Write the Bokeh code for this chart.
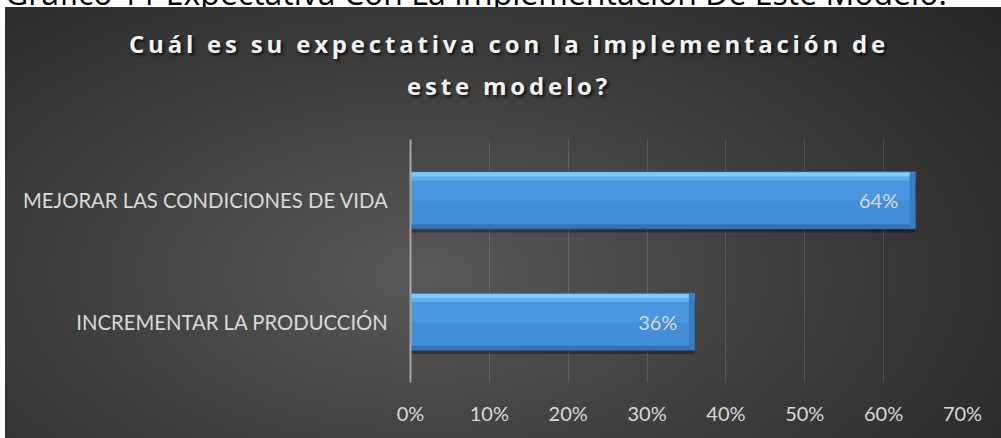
from bokeh.plotting import figure
from bokeh.models import (ColumnDataSource, FactorRange, Range1d, NumeralTickFormatter,
                          FixedTicker, LabelSet, Div)
from bokeh.transform import dodge
from bokeh.layouts import column
from bokeh.core.properties import value
from bokeh.embed import file_html
from bokeh.resources import INLINE

# ---- data ----
caption = "Gráfico 11 Expectativa Con La Implementación De Este Modelo."
title_line1 = "Cuál es su expectativa con la implementación de"
title_line2 = "este modelo?"
categories = ["MEJORAR LAS CONDICIONES DE VIDA", "INCREMENTAR LA PRODUCCIÓN"]
values = [0.64, 0.36]
value_labels = ["64%", "36%"]
x_ticks = [0.0, 0.1, 0.2, 0.3, 0.4, 0.5, 0.6, 0.7]
x_max = 0.7

LABEL_FONT = "Lato"
TEXT_COLOR = "#d9d9d9"
W = 996

src = ColumnDataSource(dict(
    cat=categories,
    val=values,
    inner=[v - 0.007 for v in values],
    lab=value_labels,
))

p = figure(width=W, height=321,
           y_range=FactorRange(factors=categories[::-1]),
           x_range=Range1d(0, x_max),
           output_backend="svg", toolbar_location=None,
           min_border_left=405, min_border_right=39,
           min_border_top=22, min_border_bottom=56)
p.border_fill_alpha = 0
p.background_fill_alpha = 0
p.outline_line_color = None

BAR_H = 0.47
# drop shadow
p.hbar(y=dodge("cat", -0.03, range=p.y_range), left=0, right="val", height=BAR_H,
       source=src, fill_color="#000000", fill_alpha=0.35, line_color=None)
# main bar
p.hbar(y="cat", left=0, right="val", height=BAR_H, source=src,
       fill_color="#4897df", line_color="#2a5d94", line_width=1)
# lower shading
p.hbar(y=dodge("cat", -BAR_H / 4, range=p.y_range), left=0, right="val",
       height=BAR_H / 2 - 0.01, source=src, fill_color="#3f88d2", fill_alpha=0.6,
       line_color=None)
# top highlight (two tones)
p.hbar(y=dodge("cat", BAR_H / 2 - 0.055, range=p.y_range), left=0, right="val",
       height=0.035, source=src, fill_color="#5fb0ec", line_color=None)
p.hbar(y=dodge("cat", BAR_H / 2 - 0.022, range=p.y_range), left=0, right="val",
       height=0.035, source=src, fill_color="#7ccbf8", line_color=None)
# bottom bevel
p.hbar(y=dodge("cat", -BAR_H / 2 + 0.02, range=p.y_range), left=0, right="val",
       height=0.035, source=src, fill_color="#3572b8", line_color=None)
# right bevel
p.hbar(y="cat", left="inner", right="val", height=BAR_H - 0.01, source=src,
       fill_color="#3a7cc2", line_color=None)

labels = LabelSet(x="val", y="cat", text="lab", source=src, x_offset=-17,
                  text_align="right", text_baseline="middle",
                  text_color=TEXT_COLOR, text_font=value(LABEL_FONT),
                  text_font_size="20px")
p.add_layout(labels)

# axes
p.xaxis.ticker = FixedTicker(ticks=x_ticks)
p.xaxis.formatter = NumeralTickFormatter(format="0%")
p.xaxis.axis_line_color = None
p.xaxis.major_tick_line_color = None
p.xaxis.minor_tick_line_color = None
p.xaxis.major_label_text_color = TEXT_COLOR
p.xaxis.major_label_text_font = LABEL_FONT
p.xaxis.major_label_text_font_size = "20px"
p.xaxis.major_label_standoff = 12

p.yaxis.axis_line_color = "#a6a6a6"
p.yaxis.axis_line_width = 2
p.yaxis.major_tick_line_color = None
p.yaxis.minor_tick_line_color = None
p.yaxis.major_label_text_color = TEXT_COLOR
p.yaxis.major_label_text_font = LABEL_FONT
p.yaxis.major_label_text_font_size = "20.3px"
p.yaxis.major_label_standoff = 16

p.xgrid.grid_line_color = "#ffffff"
p.xgrid.grid_line_alpha = 0.13
p.ygrid.grid_line_color = None

title_html = (
    '<div style="width:%dpx;text-align:center;font-family:\'Open Sans\';'
    'font-weight:bold;font-size:24px;letter-spacing:3.8px;color:#f2f2f2;'
    'text-shadow:2px 2px 3px rgba(0,0,0,0.75);line-height:42px;padding-top:16px;'
    'padding-left:12px;box-sizing:border-box">' % W
    + title_line1 + '<br>' + title_line2 + '</div>'
)
title_div = Div(text=title_html, width=W, height=110, margin=(0, 0, 0, 0))

inner = column(title_div, p, width=W, height=431, margin=(0, 0, 0, 5),
               styles={"background": "radial-gradient(ellipse 75% 95% at 42% 62%, "
                                     "#585858 0%, #3d3d3d 50%, #252525 100%)"})

cap_html = (
    '<div style="position:relative;top:-24px;font-family:\'Open Sans\';font-size:32px;'
    'color:#000;white-space:nowrap;line-height:34px">' + caption + '</div>'
)
cap_div = Div(text=cap_html, width=W, height=7, margin=(0, 0, 0, 5),
              styles={"overflow": "hidden"})

root = column(cap_div, inner, margin=(0, 0, 0, 0))

open("out.html", "w").write(file_html(root, INLINE))
